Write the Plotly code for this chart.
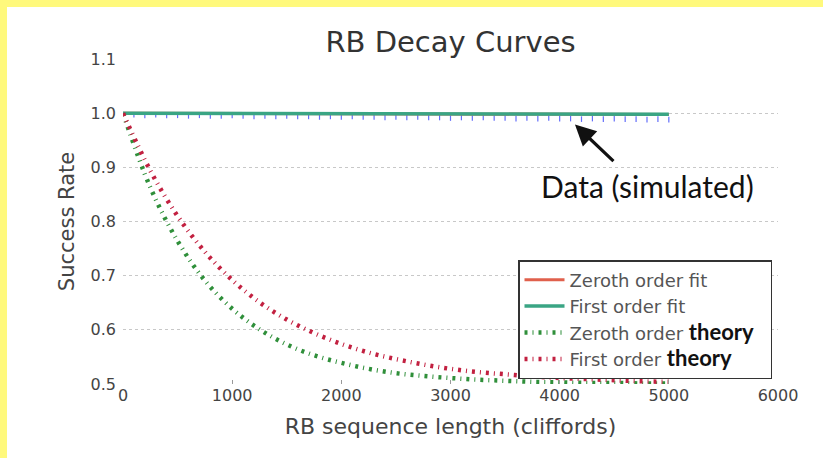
import plotly.graph_objects as go

# ---- data ----
theory_x = [0, 250, 500, 750, 1000, 1250, 1500, 1750, 2000, 2250, 2500, 2750,
            3000, 3250, 3500, 3750, 4000, 4250, 4500, 4750, 5000]
zeroth_theory = [1.0, 0.863, 0.764, 0.691, 0.639, 0.601, 0.573, 0.553, 0.539, 0.528,
                 0.520, 0.515, 0.511, 0.508, 0.506, 0.504, 0.503, 0.502, 0.502, 0.501, 0.501]
first_theory = [1.0, 0.894, 0.810, 0.744, 0.692, 0.651, 0.619, 0.594, 0.574, 0.558,
                0.546, 0.536, 0.528, 0.522, 0.518, 0.514, 0.511, 0.509, 0.507, 0.505, 0.504]

fit_x = [0, 1000, 2000, 3000, 4000, 5000]
zeroth_fit = [1.0, 0.9995, 0.999, 0.9985, 0.998, 0.9975]
first_fit = [1.0, 0.9996, 0.9992, 0.9988, 0.9984, 0.998]

data_x = list(range(100, 5001, 100))
data_y = [0.997, 0.996, 0.997, 0.996, 0.996, 0.995, 0.996, 0.995, 0.995, 0.996,
          0.995, 0.994, 0.995, 0.994, 0.995, 0.994, 0.994, 0.993, 0.994, 0.993,
          0.994, 0.993, 0.993, 0.992, 0.993, 0.992, 0.993, 0.992, 0.992, 0.991,
          0.992, 0.991, 0.992, 0.991, 0.991, 0.990, 0.991, 0.990, 0.991, 0.990,
          0.990, 0.989, 0.990, 0.989, 0.990, 0.989, 0.989, 0.988, 0.989, 0.988]

x_ticks = [0, 1000, 2000, 3000, 4000, 5000, 6000]
y_ticks = [0.5, 0.6, 0.7, 0.8, 0.9, 1.0, 1.1]

RED_FIT = "#e0604c"
TEAL_FIT = "#3aa584"
GREEN_TH = "#2f8f3a"
RED_TH = "#c22040"
theory_word = "<b><span style='font-family:Lato;font-size:22px;color:#111'>theory</span></b>"

fig = go.Figure()

fig.add_trace(go.Scatter(x=data_x, y=data_y, mode="markers", showlegend=False,
                         marker=dict(symbol="line-ns-open", size=4,
                                     line=dict(color="#b3cdec", width=1.2))))
fig.add_trace(go.Scatter(x=fit_x, y=zeroth_fit, mode="lines", name="Zeroth order fit",
                         line=dict(color=RED_FIT, width=3)))
fig.add_trace(go.Scatter(x=fit_x, y=first_fit, mode="lines", name="First order fit",
                         line=dict(color=TEAL_FIT, width=3.5)))
fig.add_trace(go.Scatter(x=theory_x, y=zeroth_theory, mode="lines", line_shape="spline",
                         name="Zeroth order " + theory_word + "&nbsp;&nbsp;",
                         line=dict(color=GREEN_TH, width=4.5, dash="3px,5px,1px,5px")))
fig.add_trace(go.Scatter(x=theory_x, y=first_theory, mode="lines", line_shape="spline",
                         name="First order " + theory_word,
                         line=dict(color=RED_TH, width=4.5, dash="3px,5px,1px,5px")))

# arrow + label
fig.add_annotation(x=4140, y=0.979, ax=40, ay=38, axref="pixel", ayref="pixel",
                   text="", showarrow=True, arrowhead=2, arrowsize=1.3,
                   arrowwidth=3.2, arrowcolor="#111")
fig.add_annotation(x=4800, y=0.866, text="Data (simulated)", showarrow=False,
                   font=dict(family="Lato", size=30, color="#111"))

L, R, T, B = 123, 778, 59, 384
W, H = 823, 458
pw, ph = R - L, B - T
def px(xp):
    return (xp - L) / pw
def py(yp):
    return (B - yp) / ph

# yellow frame on top and left edges (empty annotation boxes)
YEL = "#fff97c"
fig.add_annotation(xref="paper", yref="paper", x=px(0), y=py(0), xanchor="left",
                   yanchor="top", text=" ", showarrow=False, width=W, height=7,
                   bgcolor=YEL, borderpad=0, borderwidth=0, font=dict(size=1))
fig.add_annotation(xref="paper", yref="paper", x=px(0), y=py(0), xanchor="left",
                   yanchor="top", text=" ", showarrow=False, width=7, height=H,
                   bgcolor=YEL, borderpad=0, borderwidth=0, font=dict(size=1))

fig.update_layout(
    width=W, height=H,
    margin=dict(l=L, r=W - R, t=T, b=H - B, pad=0),
    paper_bgcolor="white", plot_bgcolor="white",
    font=dict(family="DejaVu Sans", color="#444", size=16),
    title=dict(text="RB Decay Curves", x=0.5 * (L + R) / W, xanchor="center",
               y=1 - 42 / H, yanchor="middle",
               font=dict(size=29, color="#333")),
    xaxis=dict(range=[0, 6000], tickvals=x_ticks, showgrid=False, zeroline=False,
               ticks="inside", ticklen=4, tickcolor="#999", showline=False,
               tickfont=dict(size=16),
               title=dict(text="RB sequence length (cliffords)", font=dict(size=22),
                          standoff=14)),
    yaxis=dict(range=[0.5, 1.1], tickvals=y_ticks, tickformat=".1f",
               showgrid=True, gridcolor="#c8c8c8", griddash="dot", gridwidth=1,
               zeroline=False, showline=False, ticks="", ticklabelstandoff=6,
               tickfont=dict(size=16),
               title=dict(text="Success Rate", font=dict(size=21), standoff=10)),
    legend=dict(x=px(518), y=py(260), xanchor="left", yanchor="top",
                bgcolor="white", bordercolor="#333", borderwidth=1.5,
                font=dict(size=18, color="#555"), tracegroupgap=0, itemwidth=40),
)

fig.write_html("out.html")
